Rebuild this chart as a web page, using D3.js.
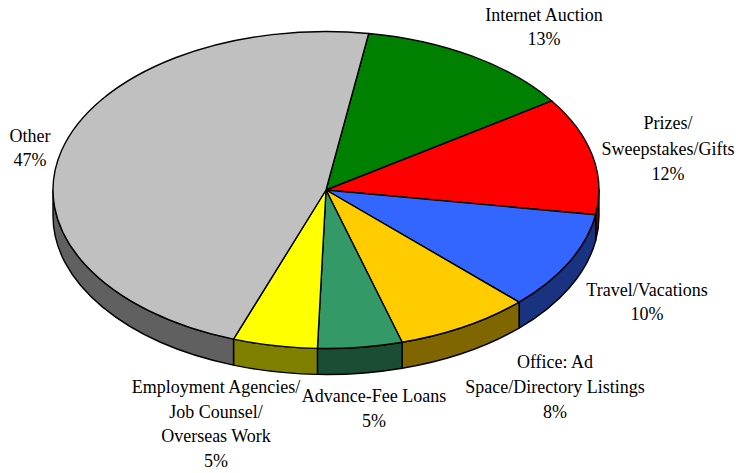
<!DOCTYPE html>
<html>
<head>
<meta charset="utf-8">
<script src="https://cdn.jsdelivr.net/npm/d3@7/dist/d3.min.js"></script>
<style>
  html, body { margin: 0; padding: 0; background: #fff; }
  svg { display: block; }
  text { font-family: "Liberation Serif", serif; font-size: 18px; fill: #000; }
</style>
</head>
<body>
<svg id="chart" width="736" height="473"></svg>
<script>
// Complaint categories, clockwise from the top of the pie
const categories = ["Internet Auction", "Prizes/Sweepstakes/Gifts", "Travel/Vacations",
  "Office: Ad Space/Directory Listings", "Advance-Fee Loans",
  "Employment Agencies/Job Counsel/Overseas Work", "Other"];
const shares = [13, 12, 10, 8, 5, 5, 47];
const topColors = ["#008000", "#ff0000", "#3366ff", "#ffcc00", "#339966", "#ffff00", "#c0c0c0"];
const wallColors = ["#004000", "#800000", "#1a3380", "#806600", "#1a4d33", "#808000", "#606060"];
const labelLines = [
  ["Internet Auction", "13%"],
  ["Prizes/", "Sweepstakes/Gifts", "12%"],
  ["Travel/Vacations", "10%"],
  ["Office: Ad", "Space/Directory Listings", "8%"],
  ["Advance-Fee Loans", "5%"],
  ["Employment Agencies/", "Job Counsel/", "Overseas Work", "5%"],
  ["Other", "47%"]
];
// Centre x and first-baseline y of each label block
const labelX = [544, 668, 647, 555, 374, 216, 30];
const labelY = [21, 129, 296, 368, 402, 393, 142];
const lineHeights = [24, 25.5, 24, 25, 25, 24.7, 24];

const cx = 326, cy = 190, rx = 273, ry = 158.5, depth = 26;
const startDeg = 9;

const svg = d3.select("#chart");
const pie = d3.pie().sort(null).value(d => d)
  .startAngle(startDeg * Math.PI / 180)
  .endAngle((startDeg + 360) * Math.PI / 180);
const arcs = pie(shares);

// Point on the tilted rim; angle is measured clockwise from the top
const rim = (a, dy = 0) => [cx + rx * Math.sin(a), cy - ry * Math.cos(a) + dy];

function sector(d) {
  const [x0, y0] = rim(d.startAngle), [x1, y1] = rim(d.endAngle);
  const large = d.endAngle - d.startAngle > Math.PI ? 1 : 0;
  return `M${cx},${cy}L${x0},${y0}A${rx},${ry} 0 ${large} 1 ${x1},${y1}Z`;
}

// Wall segment for the part of a slice that faces the viewer (90 to 270 degrees)
function wall(d) {
  const lo = Math.PI / 2, hi = 3 * Math.PI / 2;
  const a0 = Math.max(d.startAngle, lo), a1 = Math.min(d.endAngle, hi);
  if (a1 <= a0) return null;
  const [x0, y0] = rim(a0), [x1, y1] = rim(a1);
  const [x2, y2] = rim(a1, depth), [x3, y3] = rim(a0, depth);
  return `M${x0},${y0}A${rx},${ry} 0 0 1 ${x1},${y1}L${x2},${y2}A${rx},${ry} 0 0 0 ${x3},${y3}Z`;
}

svg.append("g").selectAll("path")
  .data(arcs.filter(d => wall(d)))
  .join("path")
  .attr("d", wall)
  .attr("fill", d => wallColors[d.index])
  .attr("stroke", "#000")
  .attr("stroke-width", 1.4)
  .attr("stroke-linejoin", "round");

svg.append("g").selectAll("path")
  .data(arcs)
  .join("path")
  .attr("d", sector)
  .attr("fill", d => topColors[d.index])
  .attr("stroke", "#000")
  .attr("stroke-width", 1.4)
  .attr("stroke-linejoin", "round");

const labels = svg.append("g").selectAll("text")
  .data(categories)
  .join("text")
  .attr("text-anchor", "middle")
  .attr("transform", (d, i) => `translate(${labelX[i]},${labelY[i]})`);

labels.selectAll("tspan")
  .data((d, i) => labelLines[i].map(t => ({ t, i })))
  .join("tspan")
  .attr("x", 0)
  .attr("y", (d, j) => j * lineHeights[d.i])
  .text(d => d.t);
</script>
</body>
</html>
